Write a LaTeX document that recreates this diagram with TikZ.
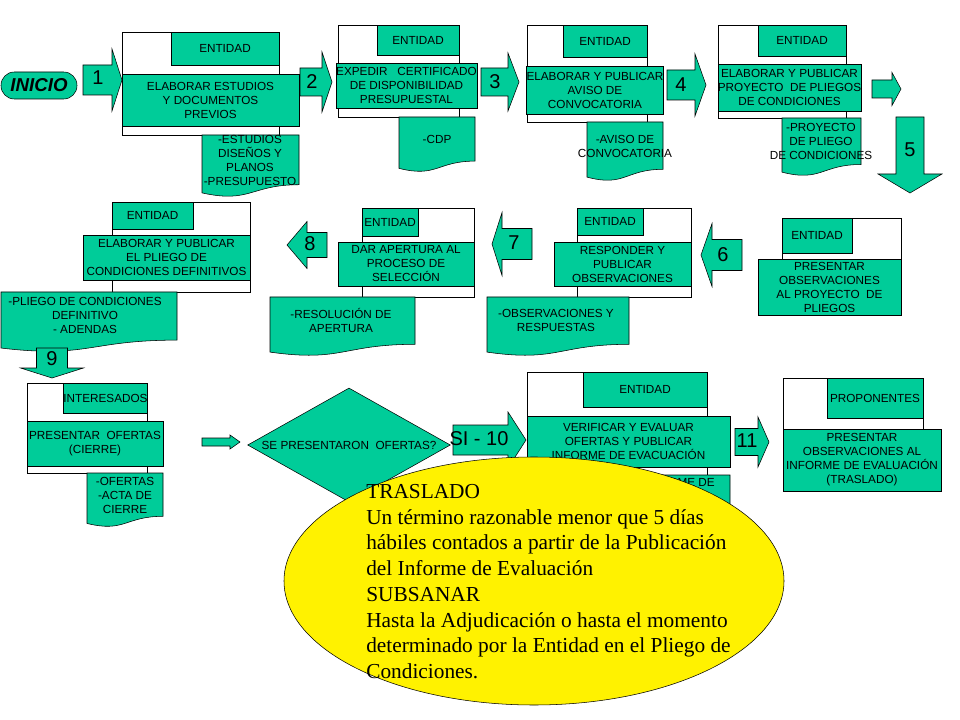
\documentclass[tikz,border=0pt]{standalone}
\usepackage{fontspec}
\setmainfont{Liberation Sans}
\newfontfamily\notefont{Liberation Serif}
\definecolor{flowgreen}{RGB}{0, 204, 153}
\usepackage{tikz}
\usetikzlibrary{shapes.geometric, calc}

% block arrow: base point, angle, shaft length, head length, shaft half width, head half width
\newcommand{\blockarrow}[6]{%
  \begin{scope}[shift={(#1)}, rotate=#2]
    \draw[arrowbody] (0,-#5) -- (#3,-#5) -- (#3,-#6) -- ({#3+#4},0) -- (#3,#6) -- (#3,#5) -- (0,#5) -- cycle;
  \end{scope}}
% document shape: left x, top y, right x, height
\newcommand{\docshape}[4]{%
  \draw[docbody] (#1,#2) -- (#3,#2) -- (#3,{#2+0.802*#4})
    .. controls ({(#1+#3)/2},{#2+0.802*#4}) and ({(#1+#3)/2},{#2+1.107*#4}) .. (#1,{#2+0.934*#4}) -- cycle;}

\begin{document}
\begin{tikzpicture}[x=0.75pt, y=-0.75pt,
  spot/.style n args={4}{minimum width={(#3-#1)*0.75pt}, minimum height={(#4-#2)*0.75pt},
    at={({(#1+#3)/2},{(#2+#4)/2})}},
  framebox/.style={draw, fill=white, inner sep=0pt},
  greenbox/.style={draw, fill=flowgreen, inner sep=0pt, align=center, font={\fontsize{8.8}{10.5}\selectfont}},
  boxtext/.style={inner sep=0pt, align=center, font={\fontsize{8.8}{10.5}\selectfont}},
  docbody/.style={draw, fill=flowgreen},
  arrowbody/.style={draw, fill=flowgreen},
  numtext/.style={inner sep=0pt, font={\fontsize{15}{18}\selectfont}}]
  \fill[white] (0,0) rectangle (960,720);
  \useasboundingbox (0,0) rectangle (960,720);

  % start
  \node[draw, fill=flowgreen, rounded corners=10pt, inner sep=0pt, spot={1}{72}{77}{99},
    font={\fontsize{14}{16}\selectfont\bfseries\itshape}] (inicio) {INICIO};

  % row 1
  \node[framebox, spot={122}{32}{279}{135}] (frame1) {};
  \node[greenbox, spot={171}{32}{279}{65}] (ent1) {ENTIDAD};
  \node[greenbox, spot={122}{74}{299}{126}] (act1) {ELABORAR ESTUDIOS\\Y DOCUMENTOS\\PREVIOS};
  \docshape{202}{135}{299}{62}
  \node[boxtext] (doc1) at (250,160) {-ESTUDIOS\\DISEÑOS Y\\PLANOS\\-PRESUPUESTO};

  \node[framebox, spot={338}{25}{459}{117}] (frame2) {};
  \node[greenbox, spot={377}{25}{459}{55}] (ent2) {ENTIDAD};
  \node[greenbox, spot={338}{63}{475}{108}] (act2) {EXPEDIR\ \ \ CERTIFICADO\\DE DISPONIBILIDAD\\PRESUPUESTAL};
  \docshape{399}{117}{475}{55}
  \node[boxtext] (doc2) at (437,139) {-CDP};

  \node[framebox, spot={527}{25}{647}{122}] (frame3) {};
  \node[greenbox, spot={563}{25}{647}{57}] (ent3) {ENTIDAD};
  \node[greenbox, spot={527}{66}{663}{114}] (act3) {ELABORAR Y PUBLICAR\\AVISO DE\\CONVOCATORIA};
  \docshape{587}{122}{663}{59}
  \node[boxtext] (doc3) at (625,146) {-AVISO DE\\CONVOCATORIA};

  \node[framebox, spot={718}{25}{846}{118}] (frame4) {};
  \node[greenbox, spot={758}{25}{846}{56}] (ent4) {ENTIDAD};
  \node[greenbox, spot={718}{64}{861}{111}] (act4) {ELABORAR Y PUBLICAR\\PROYECTO\ \ DE PLIEGOS\\DE CONDICIONES};
  \docshape{782}{118}{861}{58}
  \node[boxtext] (doc4) at (821,141) {-PROYECTO\\DE PLIEGO\\DE CONDICIONES};

  % row 2
  \node[framebox, spot={782}{218}{901}{315}] (frame6) {};
  \node[greenbox, spot={782}{218}{852}{253}] (ent6) {ENTIDAD};
  \node[greenbox, spot={758}{259}{901}{315}] (act6) {PRESENTAR\\OBSERVACIONES\\AL PROYECTO\ \ DE\\PLIEGOS};

  \node[framebox, spot={577}{208}{691}{297}] (frame7) {};
  \node[greenbox, spot={577}{208}{643}{235}] (ent7) {ENTIDAD};
  \node[greenbox, spot={554}{242}{691}{286}] (act7) {RESPONDER Y\\PUBLICAR\\OBSERVACIONES};
  \docshape{487}{297}{629}{59}
  \node[boxtext] (doc7) at (556,320) {-OBSERVACIONES Y\\RESPUESTAS};

  \node[framebox, spot={362}{208}{474}{297}] (frame8) {};
  \node[greenbox, spot={362}{208}{418}{236}] (ent8) {ENTIDAD};
  \node[greenbox, spot={338}{242}{474}{286}] (act8) {DAR APERTURA AL\\PROCESO DE\\SELECCIÓN};
  \docshape{270}{297}{415}{59}
  \node[boxtext] (doc8) at (341,320) {-RESOLUCIÓN DE\\APERTURA};

  \node[framebox, spot={112}{202}{250}{292}] (frame9) {};
  \node[greenbox, spot={112}{202}{193}{229}] (ent9) {ENTIDAD};
  \node[greenbox, spot={83}{235}{250}{280}] (act9) {ELABORAR Y PUBLICAR\\EL PLIEGO DE\\CONDICIONES DEFINITIVOS};
  \docshape{1}{292}{177}{60}
  \node[boxtext] (doc9) at (85,315) {-PLIEGO DE CONDICIONES\\DEFINITIVO\\- ADENDAS};

  % row 3
  \node[framebox, spot={27}{383}{147}{473}] (frame10) {};
  \node[greenbox, spot={64}{383}{147}{413}] (ent10) {INTERESADOS};
  \node[greenbox, spot={27}{421}{163}{466}] (act10) {PRESENTAR\ \ OFERTAS\\(CIERRE)};
  \docshape{87}{473}{163}{54}
  \node[boxtext] (doc10) at (125,495) {-OFERTAS\\-ACTA DE\\CIERRE};

  \node[draw, fill=flowgreen, diamond, aspect=2, inner sep=0pt, minimum width=152pt, minimum height=85.5pt,
    font={\fontsize{8.8}{10.5}\selectfont}] (ask) at (349,445) {SE PRESENTARON\ \ OFERTAS?};

  \node[framebox, spot={527}{372}{707}{475}] (frame11) {};
  \node[greenbox, spot={583}{372}{707}{407}] (ent11) {ENTIDAD};
  \node[greenbox, spot={527}{416}{730}{467}] (act11) {VERIFICAR Y EVALUAR\\OFERTAS Y PUBLICAR\\INFORME DE EVACUACIÓN};
  \docshape{635}{475}{730}{58}
  \node[boxtext] (doc11) at (676,482) {-INFORME DE};

  \node[framebox, spot={783}{378}{923}{491}] (frame12) {};
  \node[greenbox, spot={827}{378}{923}{418}] (ent12) {PROPONENTES};
  \node[greenbox, spot={783}{429}{941}{491}] (act12) {PRESENTAR\\OBSERVACIONES AL\\INFORME DE EVALUACIÓN\\(TRASLADO)};

  % block arrows
  \blockarrow{83,80}{0}{29}{10}{15}{31}
  \node[numtext] (n1) at (98,78) {1};
  \blockarrow{300,82}{0}{22}{10}{14}{30}
  \node[numtext] (n2) at (312,82) {2};
  \blockarrow{481,82}{0}{27}{11}{14}{29}
  \node[numtext] (n3) at (495,82) {3};
  \blockarrow{667,85}{0}{28}{11}{15}{31}
  \node[numtext] (n4) at (681,85) {4};
  \blockarrow{872,89}{0}{20}{9}{9}{16.5}
  \blockarrow{910,117}{-90}{57}{19}{14}{32}
  \node[numtext] (n5) at (910,150) {5};
  \blockarrow{742,255}{180}{30}{11}{15.5}{31.5}
  \node[numtext] (n6) at (723,255) {6};
  \blockarrow{532,244}{180}{30}{10}{15.5}{31.5}
  \node[numtext] (n7) at (514,243) {7};
  \blockarrow{327,245}{180}{20}{20}{12.5}{23.5}
  \node[numtext] (n8) at (310,244) {8};
  \blockarrow{52,348}{-90}{20}{10}{15.5}{31.5}
  \node[numtext] (n9) at (52,359) {9};
  \blockarrow{202,442}{0}{28}{10}{4}{7}
  \blockarrow{453,440}{0}{55}{18}{15}{28}
  \node[numtext] (n10) at (479,439) {SI - 10};
  \blockarrow{735,442}{0}{23}{11}{13.5}{25}
  \node[numtext] (n11) at (747,441) {11};

  % note
  \node[draw, fill=yellow, ellipse, inner sep=0pt, minimum width=375pt, minimum height=186pt] (note) at (534,581) {};
  \node[anchor=north west, inner sep=0pt, align=left, font={\notefont\fontsize{16}{19.3}\selectfont}] (notetext) at (366,484)
    {TRASLADO\\Un término razonable menor que 5 días\\hábiles contados a partir de la Publicación\\del Informe de Evaluación\\SUBSANAR\\Hasta la Adjudicación o hasta el momento\\determinado por la Entidad en el Pliego de\\Condiciones.};
\end{tikzpicture}
\end{document}
